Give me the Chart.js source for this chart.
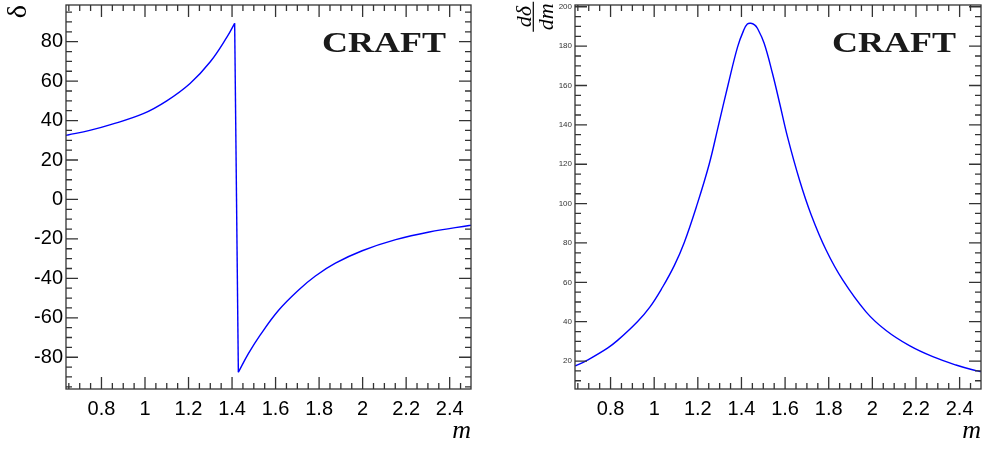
<!DOCTYPE html>
<html>
<head>
<meta charset="utf-8">
<script src="https://cdn.jsdelivr.net/npm/chart.js@4.4.1/dist/chart.umd.min.js"></script>
<style>
html,body{margin:0;padding:0;background:#fff;}
#wrap{position:relative;width:982px;height:449px;overflow:hidden;background:#fff;}
.box{position:absolute;top:0;width:491px;height:449px;}
</style>
</head>
<body>
<div id="wrap">
  <div class="box" style="left:0"><canvas id="c1" width="491" height="449"></canvas></div>
  <div class="box" style="left:491px"><canvas id="c2" width="491" height="449"></canvas></div>
</div>
<script>
// ---- data ----
const massPhase = [0.637,0.646,0.746,0.838,0.992,1.100,1.207,1.300,1.377,1.412,1.429,1.475,1.529,1.613,1.706,1.783,1.875,1.998,2.152,2.306,2.490,2.498];
const phaseDeg  = [32.5,32.7,35.0,37.8,43.5,50.0,58.8,69.8,82.4,89.3,-87.6,-78.2,-68.8,-56.3,-45.9,-38.8,-32.3,-26.0,-20.4,-16.5,-13.2,-13.1];

const massDeriv = [0.638,0.649,0.694,0.786,0.832,0.923,0.980,1.038,1.092,1.137,1.198,1.252,1.293,1.339,1.382,1.410,1.427,1.443,1.460,1.473,1.504,1.542,1.575,1.612,1.666,1.719,1.788,1.864,1.971,2.063,2.170,2.277,2.383,2.475,2.498];
const derivVal  = [17.6,18.0,20.5,26.6,30.5,40.0,47.4,57.5,68.5,80.0,100.0,120.0,139.0,160.5,179.5,188.0,191.2,191.6,190.8,189.1,181.5,166.2,151.0,133.5,112.0,94.5,76.4,61.2,45.0,35.5,27.8,22.2,18.0,15.1,14.6];

const mAxisRange     = [0.637, 2.498];
const phaseAxisRange = [-96.1, 98.6];
const derivAxisRange = [5.8, 200.9];
const mTickStep = 0.2, mMinorStep = 0.05;
const yTickStep = 20, yMinorStep = 5;
const panelTag = 'CRAFT';
const xTitle = 'm';
const phaseTitle = 'δ';
const derivTitleNum = 'dδ', derivTitleDen = 'dm';

// ---- ROOT-like frame with inward ticks ----
const rootFrame = {
  id: 'rootFrame',
  afterDatasetsDraw(chart, args, opts) {
    const {ctx, chartArea: a, scales: {x, y}} = chart;
    ctx.save();
    ctx.strokeStyle = '#333';
    ctx.lineWidth = 1.3;
    ctx.beginPath();
    const isMajor = (v, step) => Math.abs(v / step - Math.round(v / step)) < 1e-6;
    for (let i = Math.ceil(x.min / opts.xMinor - 1e-6); i * opts.xMinor <= x.max + 1e-9; i++) {
      const v = i * opts.xMinor;
      const px = x.getPixelForValue(v);
      const len = isMajor(v, opts.xMajor) ? 12 : 6;
      ctx.moveTo(px, a.bottom); ctx.lineTo(px, a.bottom - len);
      ctx.moveTo(px, a.top); ctx.lineTo(px, a.top + len);
    }
    for (let i = Math.ceil(y.min / opts.yMinor - 1e-6); i * opts.yMinor <= y.max + 1e-9; i++) {
      const v = i * opts.yMinor;
      const py = y.getPixelForValue(v);
      const len = isMajor(v, opts.yMajor) ? 12 : 6;
      ctx.moveTo(a.left, py); ctx.lineTo(a.left + len, py);
      ctx.moveTo(a.right, py); ctx.lineTo(a.right - len, py);
    }
    ctx.stroke();
    ctx.strokeRect(a.left, a.top, a.right - a.left, a.bottom - a.top);
    // panel tag
    ctx.fillStyle = '#1a1a1a';
    ctx.font = 'bold 30px "Liberation Serif"';
    ctx.textAlign = 'right';
    ctx.textBaseline = 'alphabetic';
    ctx.translate(a.right - 25, a.top + 47);
    ctx.scale(1.2, 1);
    ctx.fillText(opts.tag, 0, 0);
    ctx.restore();

    if (opts.fraction) {
      ctx.save();
      ctx.translate(a.left - 41.7, a.top + 11.7);
      ctx.rotate(-Math.PI / 2);
      ctx.fillStyle = '#000';
      ctx.strokeStyle = '#000';
      ctx.font = 'italic 22px "Liberation Serif"';
      ctx.textAlign = 'center';
      ctx.textBaseline = 'alphabetic';
      ctx.fillText(opts.fraction[0], 0, -2.5);
      ctx.fillText(opts.fraction[1], 0, 19.5);
      ctx.lineWidth = 1.2;
      ctx.beginPath(); ctx.moveTo(-15, 0); ctx.lineTo(15, 0); ctx.stroke();
      ctx.restore();
    }
  }
};

function fmt(v) { return String(Math.round(v * 10) / 10); }

function toPoints(xs, ys, from, to) {
  const out = [];
  for (let i = from; i < to; i++) out.push({x: xs[i], y: ys[i]});
  return out;
}

function lineSet(pts, tension) {
  return {data: pts, borderColor: '#0000ff', borderWidth: 1.4, pointRadius: 0, fill: false, tension: tension};
}

function makeChart(id, datasets, yRange, yCfg, extra) {
  return new Chart(document.getElementById(id), {
    type: 'line',
    data: { datasets: datasets },
    options: {
      responsive: false,
      animation: false,
      devicePixelRatio: 1,
      layout: { padding: extra.padding },
      plugins: {
        legend: {display: false},
        tooltip: {enabled: false},
        rootFrame: {xMajor: mTickStep, xMinor: mMinorStep, yMajor: yTickStep, yMinor: yMinorStep,
                    tag: panelTag, fraction: extra.fraction}
      },
      scales: {
        x: {
          type: 'linear',
          min: mAxisRange[0], max: mAxisRange[1],
          afterFit(s) { s.height = 60; s.paddingLeft = 0; s.paddingRight = 0; s.paddingTop = 0; s.paddingBottom = 0; },
          grid: {display: false, drawTicks: false},
          border: {display: false},
          ticks: {stepSize: mTickStep, includeBounds: false, autoSkip: false, maxRotation: 0,
                  padding: 8, color: '#000', font: {family: 'Liberation Sans', size: 20},
                  callback: v => fmt(v)},
          title: {display: true, text: xTitle, align: 'end', color: '#000',
                  font: {family: 'Liberation Serif', style: 'italic', size: 26},
                  padding: {top: 0, bottom: 2.2}}
        },
        y: {
          type: 'linear',
          min: yRange[0], max: yRange[1],
          afterFit(s) { s.width = extra.yWidth; s.paddingLeft = 0; s.paddingRight = 0; s.paddingTop = 0; s.paddingBottom = 0; },
          grid: {display: false, drawTicks: false},
          border: {display: false},
          ticks: Object.assign({stepSize: yTickStep, includeBounds: false, autoSkip: false, padding: 3,
                  callback: v => fmt(v)}, yCfg),
          title: extra.yTitle
        }
      }
    },
    plugins: [rootFrame]
  });
}

// phase curve: smooth branches on both sides of the 180° wrap, joined by a straight jump
const jumpIdx = phaseDeg.indexOf(Math.max(...phaseDeg));
const phaseSets = [
  lineSet(toPoints(massPhase, phaseDeg, 0, jumpIdx + 1), 0.4),
  lineSet(toPoints(massPhase, phaseDeg, jumpIdx, jumpIdx + 2), 0),
  lineSet(toPoints(massPhase, phaseDeg, jumpIdx + 1, massPhase.length), 0.4)
];

makeChart('c1', phaseSets, phaseAxisRange,
  {color: '#000', font: {family: 'Liberation Sans', size: 20}},
  {padding: {left: 0, right: 20, top: 5, bottom: 0}, yWidth: 66,
   yTitle: {display: true, text: phaseTitle, align: 'end', color: '#000',
            font: {family: 'Liberation Serif', size: 28}, padding: {top: 1.6, bottom: 0}}});

makeChart('c2', [lineSet(toPoints(massDeriv, derivVal, 0, massDeriv.length), 0.4)], derivAxisRange,
  {color: '#333', font: {family: 'Liberation Sans', size: 8}},
  {padding: {left: 0, right: 1, top: 5, bottom: 0}, yWidth: 84,
   yTitle: {display: false}, fraction: [derivTitleNum, derivTitleDen]});
</script>
</body>
</html>
